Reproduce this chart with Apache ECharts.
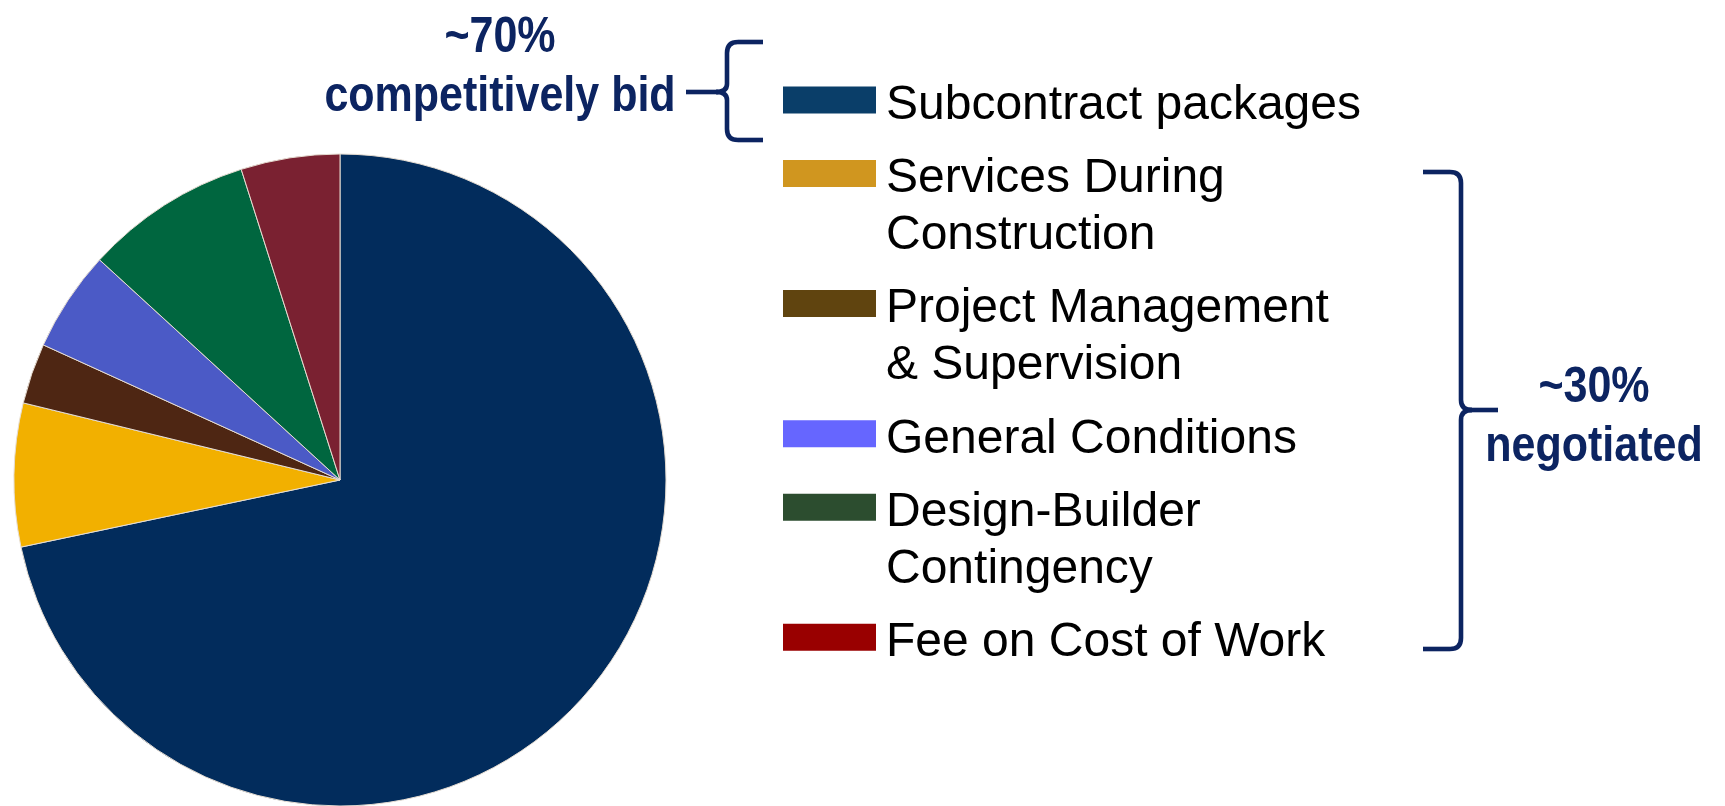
<!DOCTYPE html>
<html>
<head>
<meta charset="utf-8">
<script src="https://cdn.jsdelivr.net/npm/echarts@6/dist/echarts.min.js"></script>
<style>
  html, body { margin: 0; padding: 0; background: #ffffff; }
  #chart { width: 1725px; height: 806px; }
</style>
</head>
<body>
<div id="chart"></div>
<script>
// Cost breakdown of the design-build contract (share of total, %)
const categories = [
  'Subcontract packages',
  'Services During\nConstruction',
  'Project Management\n& Supervision',
  'General Conditions',
  'Design-Builder\nContingency',
  'Fee on Cost of Work'
];
const shares = [71.7, 7.1, 3.0, 5.0, 8.3, 4.9];

// Slice fills and the (slightly different) key swatch fills
const sliceColors  = ['#022c5c', '#f2b000', '#4e2613', '#4b5ac6', '#00663f', '#7a2131'];
const legendColors = ['#0a3e69', '#d0961f', '#60440f', '#6666ff', '#2c4d2f', '#990000'];

// Grouping annotations
const groupLabels = ['~70%\ncompetitively bid', '~30%\nnegotiated'];

const accent = '#0c2461';
const font = '"Liberation Sans", Arial, Helvetica, sans-serif';

// ---- key layout (swatch + label per category) ----
const keyX = 783, keyTextX = 886;
const lineH = 56.6, itemGap = 16.9, fontSize = 48;
const firstBaseline = 115.5;
const graphics = [];
let baseline = firstBaseline;
categories.forEach((name, i) => {
  const nLines = name.split('\n').length;
  graphics.push({
    type: 'rect',
    shape: { x: keyX, y: baseline - 29, width: 93, height: 27 },
    style: { fill: legendColors[i] },
    silent: true
  });
  graphics.push({
    type: 'text',
    x: keyTextX,
    y: baseline - 0.31 * fontSize - lineH / 2 + 5,
    style: {
      text: name,
      font: fontSize + 'px ' + font,
      fill: '#000000',
      lineHeight: lineH,
      align: 'left',
      verticalAlign: 'top'
    },
    silent: true
  });
  baseline += nLines * lineH + itemGap;
});

// ---- braces (straight runs + quadratic corners) ----
const braceStyle = { stroke: accent, lineWidth: 4.6, fill: null, lineCap: 'butt' };
function seg(x1, y1, x2, y2) {
  graphics.push({ type: 'line', shape: { x1, y1, x2, y2 }, style: braceStyle, silent: true });
}
function curve(x1, y1, cx, cy, x2, y2) {
  graphics.push({ type: 'bezierCurve', shape: { x1, y1, x2, y2, cpx1: cx, cpy1: cy }, style: braceStyle, silent: true });
}
// opening brace around the first key item
seg(763, 42, 738, 42);
curve(738, 42, 727, 42, 727, 53);
seg(727, 53, 727, 84);
curve(727, 84, 727, 92, 716, 92);
curve(716, 92, 727, 92, 727, 100);
seg(727, 100, 727, 129);
curve(727, 129, 727, 140, 738, 140);
seg(738, 140, 763, 140);
seg(686, 92, 718, 92);
// closing brace around the remaining key items
seg(1423, 172, 1450, 172);
curve(1450, 172, 1461, 172, 1461, 183);
seg(1461, 183, 1461, 400);
curve(1461, 400, 1461, 410, 1472, 410);
curve(1472, 410, 1461, 410, 1461, 420);
seg(1461, 420, 1461, 638);
curve(1461, 638, 1461, 649, 1450, 649);
seg(1450, 649, 1423, 649);
seg(1468, 410, 1498, 410);

// ---- group labels (condensed bold) ----
const labelFont = 'bold 50px ' + font;
graphics.push({
  type: 'text',
  x: 500, y: 9,
  scaleX: 0.86,
  style: { text: groupLabels[0], font: labelFont, fill: accent, lineHeight: 59, align: 'center', verticalAlign: 'top' },
  silent: true
});
graphics.push({
  type: 'text',
  x: 1594, y: 359,
  scaleX: 0.86,
  style: { text: groupLabels[1], font: labelFont, fill: accent, lineHeight: 59, align: 'center', verticalAlign: 'top' },
  silent: true
});

const chart = echarts.init(document.getElementById('chart'), null, { renderer: 'canvas' });
chart.setOption({
  backgroundColor: '#ffffff',
  animation: false,
  series: [{
    type: 'pie',
    center: [340, 480],
    radius: 326,
    startAngle: 90,
    clockwise: true,
    avoidLabelOverlap: false,
    label: { show: false },
    labelLine: { show: false },
    emphasis: { disabled: true },
    itemStyle: { borderColor: '#e6ddd2', borderWidth: 1 },
    data: categories.map((name, i) => ({
      name: name,
      value: shares[i],
      itemStyle: { color: sliceColors[i] }
    }))
  }],
  graphic: graphics
});
</script>
</body>
</html>
